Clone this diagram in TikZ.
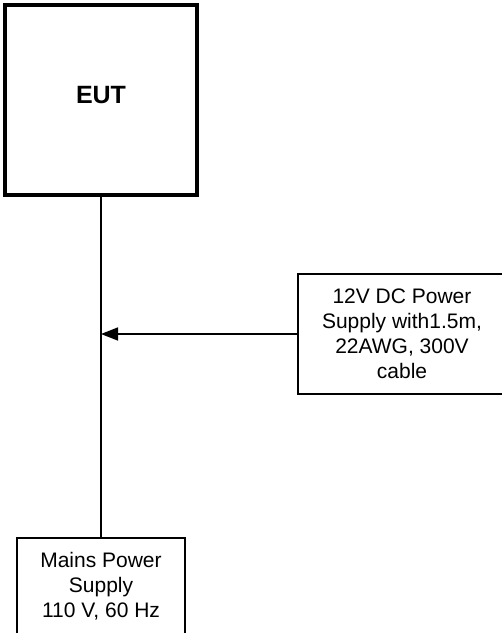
\documentclass[tikz,border=0pt]{standalone}
\usepackage{fontspec}
\setmainfont{Liberation Sans}
\usetikzlibrary{arrows.meta}
\begin{document}
\begin{tikzpicture}[x=1pt,y=-1pt,
  box/.style={draw=black, line width=1.6pt, inner sep=0pt, align=center,
    font=\fontsize{21}{25}\selectfont},
  eutbox/.style={draw=black, line width=4pt, inner sep=0pt,
    font=\fontsize{25}{28}\selectfont\bfseries},
  wire/.style={draw=black, line width=1.6pt},
  feed/.style={wire, -{Triangle[length=17pt,width=13pt]}}]
\useasboundingbox (0,0) rectangle (502,633);
\clip (0,0) rectangle (502,633);
\node[eutbox, minimum width=192pt, minimum height=190pt] (eut) at (101,100)
  {\raisebox{-3pt}[0pt][0pt]{EUT}};
\node[box, minimum width=208pt, minimum height=120pt] (dc) at (402,334)
  {12V DC Power\\Supply with1.5m,\\22AWG, 300V\\cable};
\node[box, minimum width=168pt, minimum height=96pt] (mains) at (101,586)
  {Mains Power\\Supply\\110 V, 60 Hz};
\coordinate (j) at (101,334);
\draw[wire] (eut.south) -- (mains.north);
\draw[feed] (dc.west) -- (j);
\end{tikzpicture}
\end{document}
